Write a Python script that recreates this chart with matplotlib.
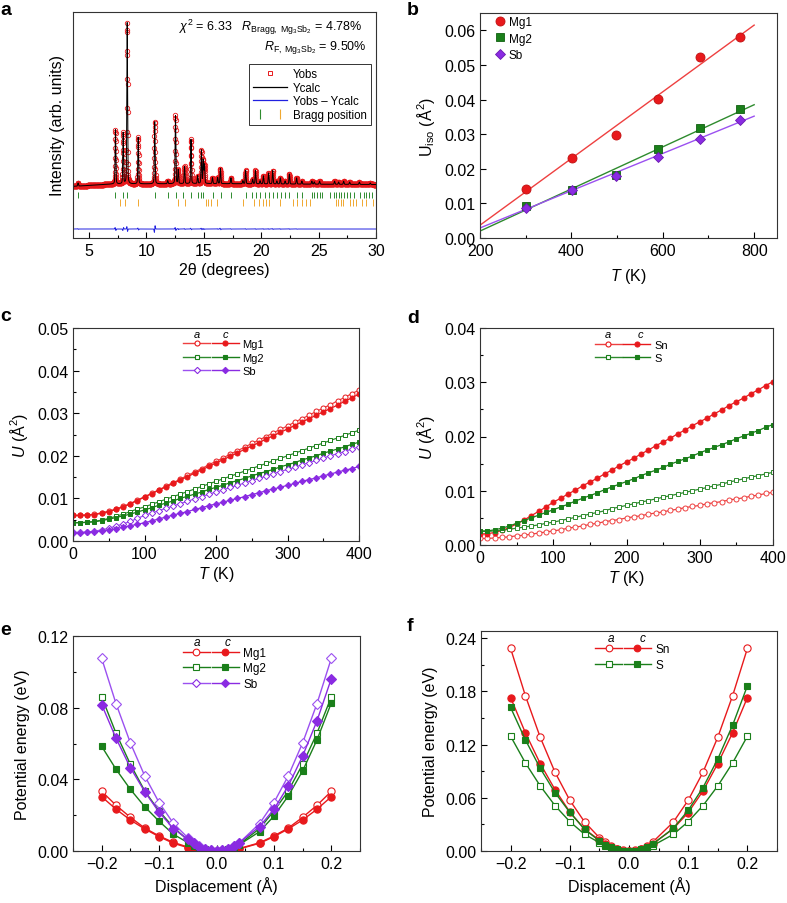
import numpy as np
import matplotlib
matplotlib.use("Agg")
import matplotlib.pyplot as plt
from matplotlib.lines import Line2D
from matplotlib.legend_handler import HandlerTuple
from matplotlib.ticker import MultipleLocator

plt.rcParams['font.family'] = ['Liberation Sans', 'DejaVu Sans']
plt.rcParams['mathtext.fontset'] = 'custom'
plt.rcParams['mathtext.rm'] = 'Liberation Sans'
plt.rcParams['mathtext.it'] = 'Liberation Sans:italic'
plt.rcParams['mathtext.bf'] = 'Liberation Sans:bold'

# ---------------- data: panel a (XRD refinement) ----------------
peak_pos = [4.04, 7.30, 7.97, 8.32, 9.28, 10.72, 11.85, 12.53, 12.77, 13.32, 13.88, 14.46,
            14.79, 14.95, 15.05, 15.75, 16.20, 16.44, 17.36, 18.40, 18.64, 19.25, 19.50,
            19.90, 20.19, 20.64, 21.00, 21.36, 21.66, 22.08, 22.45, 23.08, 23.54, 24.41,
            24.62, 25.08, 26.39, 26.74, 27.18, 27.70, 28.55, 29.50]
peak_int = [2, 35, 33, 104, 30, 40, 2, 44, 9, 11, 28.5, 5,
            21.5, 15, 12, 3.8, 4, 9.7, 3.8, 2, 8.6, 3, 8.6,
            2, 5.2, 7, 8.6, 2, 4, 2, 6.5, 4, 2, 2,
            1.5, 2, 2, 1.5, 2, 1.5, 1.5, 1]
peak_resid = [0.3, 1.5, -1.5, 2.5, 1.0, -3.5, 0, 1.5, 0.5, 0.5, 0.8, 0,
              0.8, 0.5, 0.3, 0, 0.3, 0.8, 0.3, 0, 0.4, 0, 0.4,
              0, 0.3, 0.3, 0.4, 0, 0.3, 0, 0.3, 0.2, 0, 0,
              0, 0, 0, 0, 0, 0, 0, 0]
bg_x = [3.6, 7.0, 15.0, 30.0]
bg_y = [-1.5, 0.0, 0.3, -0.3]
bragg_phase1 = [4.04, 7.30, 7.97, 8.32, 10.73, 11.84, 12.54, 13.21, 13.88, 14.46, 14.78, 14.95,
                15.77, 16.47, 17.34, 18.68, 19.23, 19.55, 19.90, 20.34, 20.72, 21.01, 21.36,
                21.71, 22.08, 22.46, 23.10, 23.54, 24.41, 24.62, 24.85, 25.08, 25.29, 26.01,
                26.30, 26.54, 26.74, 26.94, 27.18, 27.47, 27.70, 28.05, 28.63, 28.92, 29.16,
                29.36, 29.65]
bragg_phase2 = [7.68, 8.14, 9.28, 12.77, 13.35, 15.19, 15.39, 15.59, 16.18, 18.39, 19.38,
                19.84, 20.19, 20.42, 20.72, 21.65, 22.75, 23.10, 23.54, 23.92, 24.27, 26.54,
                26.68, 26.94, 27.12, 27.76, 27.99, 28.28, 28.78, 29.16, 29.74]

# ---------------- data: panel b ----------------
b_T = [300, 402, 497, 590, 681, 769]
b_mg1 = [0.0143, 0.0232, 0.0297, 0.0403, 0.0523, 0.0582]
b_mg2 = [0.0092, 0.0140, 0.0181, 0.0256, 0.0318, 0.0372]
b_sb = [0.0088, 0.0138, 0.0179, 0.0234, 0.0287, 0.0340]
fit_T = [200, 800]
fit_mg1 = [0.0037, 0.0615]
fit_mg2 = [0.0020, 0.0385]
fit_sb = [0.0029, 0.0352]

# ---------------- data: panels c, d ----------------
T_grid = list(range(0, 401, 10))
c_mg1_a = [0.0060, 0.0060, 0.0061, 0.0063, 0.0066, 0.0070, 0.0075, 0.0081, 0.0088, 0.0096, 0.0104,
           0.0112, 0.0120, 0.0129, 0.0137, 0.0145, 0.0154, 0.0162, 0.0170, 0.0179, 0.0187,
           0.0195, 0.0204, 0.0212, 0.0220, 0.0229, 0.0237, 0.0245, 0.0254, 0.0262, 0.0270,
           0.0279, 0.0287, 0.0295, 0.0304, 0.0312, 0.0320, 0.0329, 0.0337, 0.0346, 0.0354]
c_mg1_c = [0.0060, 0.0060, 0.0061, 0.0062, 0.0065, 0.0069, 0.0074, 0.0080, 0.0087, 0.0095, 0.0103,
           0.0111, 0.0119, 0.0127, 0.0135, 0.0143, 0.0151, 0.0159, 0.0167, 0.0175, 0.0183,
           0.0191, 0.0199, 0.0207, 0.0215, 0.0223, 0.0231, 0.0239, 0.0247, 0.0255, 0.0263,
           0.0271, 0.0279, 0.0287, 0.0295, 0.0303, 0.0311, 0.0319, 0.0328, 0.0336, 0.0345]
c_mg2_a = [0.0043, 0.0043, 0.0044, 0.0046, 0.0049, 0.0053, 0.0058, 0.0063, 0.0069, 0.0075, 0.0080,
           0.0086, 0.0092, 0.0098, 0.0104, 0.0110, 0.0116, 0.0122, 0.0128, 0.0134, 0.0140,
           0.0146, 0.0152, 0.0158, 0.0164, 0.0170, 0.0176, 0.0182, 0.0188, 0.0194, 0.0200,
           0.0206, 0.0212, 0.0218, 0.0224, 0.0230, 0.0236, 0.0242, 0.0248, 0.0254, 0.0260]
c_mg2_c = [0.0043, 0.0043, 0.0044, 0.0045, 0.0048, 0.0051, 0.0055, 0.0059, 0.0063, 0.0068, 0.0073,
           0.0078, 0.0084, 0.0089, 0.0094, 0.0100, 0.0105, 0.0110, 0.0115, 0.0121, 0.0126,
           0.0131, 0.0137, 0.0142, 0.0147, 0.0153, 0.0158, 0.0163, 0.0168, 0.0174, 0.0179,
           0.0184, 0.0190, 0.0195, 0.0200, 0.0206, 0.0211, 0.0216, 0.0221, 0.0227, 0.0232]
c_sb_a = [0.0020, 0.0020, 0.0021, 0.0023, 0.0026, 0.0030, 0.0035, 0.0040, 0.0046, 0.0053, 0.0060,
          0.0066, 0.0071, 0.0077, 0.0082, 0.0088, 0.0093, 0.0099, 0.0104, 0.0110, 0.0115,
          0.0120, 0.0126, 0.0131, 0.0136, 0.0142, 0.0147, 0.0152, 0.0158, 0.0163, 0.0168,
          0.0173, 0.0179, 0.0184, 0.0189, 0.0195, 0.0200, 0.0205, 0.0210, 0.0216, 0.0221]
c_sb_c = [0.0019, 0.0019, 0.0020, 0.0021, 0.0023, 0.0026, 0.0029, 0.0032, 0.0036, 0.0039, 0.0043,
          0.0047, 0.0052, 0.0056, 0.0061, 0.0065, 0.0069, 0.0074, 0.0078, 0.0083, 0.0087,
          0.0091, 0.0096, 0.0100, 0.0104, 0.0109, 0.0113, 0.0118, 0.0122, 0.0126, 0.0131,
          0.0135, 0.0140, 0.0144, 0.0148, 0.0153, 0.0157, 0.0162, 0.0166, 0.0170, 0.0175]
d_sn_a = [0.0012, 0.0012, 0.0013, 0.0014, 0.0015, 0.0017, 0.0018, 0.0020, 0.0022, 0.0024, 0.0026,
          0.0028, 0.0031, 0.0033, 0.0035, 0.0038, 0.0040, 0.0043, 0.0045, 0.0047, 0.0050,
          0.0052, 0.0054, 0.0057, 0.0059, 0.0061, 0.0064, 0.0066, 0.0069, 0.0071, 0.0073,
          0.0076, 0.0078, 0.0080, 0.0083, 0.0085, 0.0087, 0.0090, 0.0092, 0.0095, 0.0097]
d_sn_c = [0.0020, 0.0021, 0.0023, 0.0027, 0.0032, 0.0039, 0.0046, 0.0054, 0.0062, 0.0070, 0.0079,
          0.0086, 0.0094, 0.0101, 0.0109, 0.0116, 0.0123, 0.0131, 0.0138, 0.0146, 0.0153,
          0.0160, 0.0168, 0.0175, 0.0183, 0.0190, 0.0197, 0.0205, 0.0212, 0.0220, 0.0227,
          0.0234, 0.0242, 0.0249, 0.0257, 0.0264, 0.0271, 0.0279, 0.0286, 0.0294, 0.0301]
d_s_a = [0.0025, 0.0025, 0.0026, 0.0027, 0.0029, 0.0031, 0.0033, 0.0035, 0.0037, 0.0040, 0.0042,
         0.0045, 0.0048, 0.0051, 0.0054, 0.0057, 0.0060, 0.0063, 0.0067, 0.0070, 0.0073,
         0.0076, 0.0079, 0.0082, 0.0085, 0.0088, 0.0091, 0.0094, 0.0097, 0.0100, 0.0103,
         0.0106, 0.0109, 0.0112, 0.0116, 0.0119, 0.0122, 0.0125, 0.0128, 0.0131, 0.0134]
d_s_c = [0.0026, 0.0026, 0.0028, 0.0031, 0.0035, 0.0040, 0.0045, 0.0050, 0.0055, 0.0060, 0.0065,
         0.0070, 0.0075, 0.0081, 0.0086, 0.0091, 0.0096, 0.0102, 0.0107, 0.0112, 0.0117,
         0.0122, 0.0128, 0.0133, 0.0138, 0.0143, 0.0149, 0.0154, 0.0159, 0.0164, 0.0170,
         0.0175, 0.0180, 0.0185, 0.0190, 0.0196, 0.0201, 0.0206, 0.0211, 0.0217, 0.0222]

# ---------------- data: panels e, f ----------------
disp = [-0.2, -0.175, -0.15, -0.125, -0.1, -0.075, -0.05, -0.04, -0.03, -0.02, -0.01, 0.0,
        0.01, 0.02, 0.03, 0.04, 0.075, 0.1, 0.125, 0.15, 0.175, 0.2]
e_mg1_a = [0.0333, 0.0255, 0.0188, 0.0128, 0.0084, 0.0048, 0.0022, 0.0014, 0.0008, 0.0004, 0.0001, 0,
           0.0001, 0.0004, 0.0008, 0.0014, 0.0046, 0.0084, 0.0128, 0.0188, 0.0255, 0.0333]
e_mg1_c = [0.0303, 0.0233, 0.0173, 0.0123, 0.0080, 0.0043, 0.0019, 0.0012, 0.0007, 0.0003, 0.0001, 0,
           0.0001, 0.0003, 0.0007, 0.0012, 0.0043, 0.0080, 0.0123, 0.0173, 0.0233, 0.0303]
e_mg2_a = [0.0860, 0.0657, 0.0484, 0.0335, 0.0223, 0.0132, 0.0061, 0.0039, 0.0022, 0.0010, 0.0002, 0,
           0.0002, 0.0010, 0.0022, 0.0039, 0.0125, 0.0223, 0.0335, 0.0484, 0.0657, 0.0860]
e_mg2_c = [0.0584, 0.0456, 0.0344, 0.0247, 0.0166, 0.0093, 0.0047, 0.0030, 0.0017, 0.0008, 0.0002, 0,
           0.0002, 0.0009, 0.0020, 0.0036, 0.0108, 0.0195, 0.0307, 0.0447, 0.0620, 0.0826]
e_sb_a = [0.1075, 0.0822, 0.0603, 0.0419, 0.0270, 0.0154, 0.0074, 0.0047, 0.0027, 0.0012, 0.0003, 0,
          0.0003, 0.0012, 0.0027, 0.0047, 0.0153, 0.0270, 0.0419, 0.0603, 0.0822, 0.1075]
e_sb_c = [0.0817, 0.0629, 0.0465, 0.0331, 0.0216, 0.0125, 0.0065, 0.0042, 0.0024, 0.0011, 0.0003, 0,
          0.0003, 0.0012, 0.0027, 0.0047, 0.0136, 0.0233, 0.0363, 0.0530, 0.0726, 0.0962]
f_sn_a = [0.2284, 0.1750, 0.1283, 0.0888, 0.0572, 0.0327, 0.0150, 0.0100, 0.0057, 0.0026, 0.0006, 0,
          0.0006, 0.0026, 0.0057, 0.0100, 0.0327, 0.0572, 0.0888, 0.1283, 0.1750, 0.2284]
f_sn_c = [0.1730, 0.1332, 0.0986, 0.0692, 0.0440, 0.0245, 0.0124, 0.0080, 0.0046, 0.0021, 0.0005, 0,
          0.0005, 0.0021, 0.0046, 0.0080, 0.0252, 0.0433, 0.0677, 0.0986, 0.1332, 0.1730]
f_s_a = [0.1294, 0.0993, 0.0734, 0.0512, 0.0331, 0.0188, 0.0094, 0.0060, 0.0034, 0.0015, 0.0004, 0,
         0.0004, 0.0015, 0.0034, 0.0060, 0.0188, 0.0331, 0.0512, 0.0734, 0.0993, 0.1294]
f_s_c = [0.1618, 0.1253, 0.0933, 0.0658, 0.0436, 0.0245, 0.0113, 0.0072, 0.0041, 0.0018, 0.0005, 0,
         0.0005, 0.0019, 0.0044, 0.0078, 0.0256, 0.0459, 0.0715, 0.1038, 0.1418, 0.1862]

# ---------------- styling ----------------
RED = '#e8191c'
RED_L = '#ee4040'
GREEN = '#1a7f1a'
GREEN_L = '#2e8b2e'
PURPLE = '#8a2be2'
PURPLE_L = '#9b50f0'
ORANGE = '#f0a830'
FS = 11.5

W, H = 787, 904
fig = plt.figure(figsize=(W / 100, H / 100), dpi=100)


def add_ax(l, r, t, b):
    return fig.add_axes([l / W, (H - b) / H, (r - l) / W, (b - t) / H])


def style(ax):
    ax.tick_params(which='both', direction='in', top=False, right=False, labelsize=FS, width=0.8)
    ax.tick_params(which='major', length=4)
    ax.tick_params(which='minor', length=2.5)
    for s in ax.spines.values():
        s.set_linewidth(0.8)
        s.set_color('#333333')


def letter(x, y, s):
    fig.text(x / W, 1 - y / H, s, fontsize=14, fontweight='bold', va='top', ha='left')


# ---------------- panel a ----------------
axa = add_ax(73, 376, 13, 239)
style(axa)
x2 = np.arange(3.6, 30.0001, 0.01)
bg = np.interp(x2, bg_x, bg_y)
fwhm = 0.075
ycalc = bg.copy()
resid = np.zeros_like(x2)
for p, h, r in zip(peak_pos, peak_int, peak_resid):
    g = np.exp(-4 * np.log(2) * ((x2 - p) / fwhm) ** 2)
    lz = 1.0 / (1 + 4 * ((x2 - p) / fwhm) ** 2)
    ycalc += h * (0.7 * g + 0.3 * lz)
    resid += r * (-(x2 - p) / (fwhm / 2.355)) * np.exp(-0.5 * ((x2 - p) / (fwhm / 2.355)) ** 2)
yobs = ycalc + resid
axa.plot(x2, yobs, ls='none', marker='o', mfc='none', mec=RED, ms=3.2, mew=0.6)
axa.plot(x2, ycalc, color='black', lw=0.7)
axa.plot(x2, yobs - ycalc - 29, color='#2020e0', lw=0.7)
axa.vlines(bragg_phase1, -9.0, -5.2, color=GREEN_L, lw=0.7)
axa.vlines(bragg_phase2, -14.2, -9.7, color=ORANGE, lw=0.7)
axa.set_xlim(3.6, 30)
axa.set_ylim(-34.8, 111)
axa.set_yticks([])
axa.xaxis.set_major_locator(MultipleLocator(5))
axa.xaxis.set_minor_locator(MultipleLocator(2.5))
axa.set_xlabel('2θ (degrees)', fontsize=FS, labelpad=3)
axa.set_ylabel('Intensity (arb. units)', fontsize=FS, labelpad=6)
axa.text(0.955, 0.92, r'$\chi^2$ = 6.33   $R_{\mathrm{Bragg,\ Mg_3Sb_2}}$ = 4.78%',
         transform=axa.transAxes, ha='right', va='baseline', fontsize=9)
axa.text(0.968, 0.836, r'$R_{\mathrm{F,\ Mg_3Sb_2}}$ = 9.50%',
         transform=axa.transAxes, ha='right', va='baseline', fontsize=9)
ha_obs = Line2D([], [], ls='none', marker='s', mfc='none', mec=RED, ms=3.2, mew=0.7)
ha_calc = Line2D([], [], color='black', lw=0.9)
ha_diff = Line2D([], [], color='#2020e0', lw=0.9)
ha_b1 = Line2D([], [], ls='none', marker='|', color=GREEN_L, ms=7, mew=0.8)
ha_b2 = Line2D([], [], ls='none', marker='|', color=ORANGE, ms=7, mew=0.8)
lga = axa.legend([ha_obs, ha_calc, ha_diff, (ha_b1, ha_b2)],
                 ['Yobs', 'Ycalc', 'Yobs – Ycalc', 'Bragg position'],
                 handler_map={tuple: HandlerTuple(ndivide=None, pad=0.4)},
                 loc='upper right', bbox_to_anchor=(0.982, 0.768), fontsize=8.3,
                 frameon=True, fancybox=False, edgecolor='#333333', framealpha=1,
                 handlelength=3.0, handletextpad=0.5, labelspacing=0.15, borderpad=0.3,
                 borderaxespad=0)
lga.get_frame().set_linewidth(0.7)
letter(0, 2, 'a')

# ---------------- panel b ----------------
axb = add_ax(480, 777, 14, 239)
style(axb)
axb.plot(fit_T, fit_mg1, color=RED_L, lw=1.0)
axb.plot(fit_T, fit_mg2, color=GREEN_L, lw=1.0)
axb.plot(fit_T, fit_sb, color=PURPLE_L, lw=1.0)
axb.plot(b_T, b_mg1, ls='none', marker='o', ms=6.5, mfc=RED, mec='#c01010', mew=0.6, label='Mg1')
axb.plot(b_T, b_mg2, ls='none', marker='s', ms=5.8, mfc=GREEN, mec='#106010', mew=0.6, label='Mg2')
axb.plot(b_T, b_sb, ls='none', marker='D', ms=5.5, mfc=PURPLE, mec='#6a1ab0', mew=0.6, label='Sb')
axb.set_xlim(200, 850)
axb.set_ylim(0, 0.065)
axb.xaxis.set_major_locator(MultipleLocator(200))
axb.xaxis.set_minor_locator(MultipleLocator(100))
axb.yaxis.set_major_locator(MultipleLocator(0.01))
axb.yaxis.set_major_formatter(plt.FormatStrFormatter('%.2f'))
axb.set_xlabel(r'$T$ (K)', fontsize=FS, labelpad=6)
axb.set_ylabel(r'U$_{\mathrm{iso}}$ (Å$^2$)', fontsize=FS, labelpad=5)
axb.legend(loc='upper left', bbox_to_anchor=(0.045, 0.985), fontsize=8.5, frameon=False,
           handletextpad=0.1, labelspacing=0.35, borderaxespad=0, borderpad=0, handlelength=1.2)
letter(407, 2, 'b')


# ---------------- helper for c-f ----------------
def pair_legend(ax, entries, x_left, y_top, ax_a, ax_c, y_hdr, fs, hl):
    handles, labels = [], []
    for (lab, col_a, col_c, mk, ms) in entries:
        ho = Line2D([], [], color=col_a, lw=1.0, marker=mk, ms=ms, mfc='white', mec=col_c, mew=0.8)
        hf = Line2D([], [], color=col_c, lw=1.0, marker=mk, ms=ms, mfc=col_c, mec=col_c, mew=0.8)
        handles.append((ho, hf))
        labels.append(lab)
    ax.legend(handles, labels, handler_map={tuple: HandlerTuple(ndivide=None, pad=0.15)},
              loc='upper left', bbox_to_anchor=(x_left, y_top), frameon=False, fontsize=fs,
              handlelength=hl, handletextpad=0.35, labelspacing=0.3, borderpad=0, borderaxespad=0)
    ax.text(ax_a, y_hdr, 'a', transform=ax.transAxes, style='italic', fontsize=fs, ha='center', va='center')
    ax.text(ax_c, y_hdr, 'c', transform=ax.transAxes, style='italic', fontsize=fs, ha='center', va='center')


# ---------------- panel c ----------------
axc = add_ax(73, 359, 329, 542)
style(axc)
msc = 3.6
axc.plot(T_grid, c_mg1_a, color=RED_L, lw=0.9, marker='o', ms=msc, mfc='white', mec=RED, mew=0.7)
axc.plot(T_grid, c_mg1_c, color=RED, lw=0.9, marker='o', ms=msc, mfc=RED, mec=RED, mew=0.7)
axc.plot(T_grid, c_mg2_a, color=GREEN_L, lw=0.9, marker='s', ms=msc - 0.4, mfc='white', mec=GREEN, mew=0.7)
axc.plot(T_grid, c_mg2_c, color=GREEN, lw=0.9, marker='s', ms=msc - 0.4, mfc=GREEN, mec=GREEN, mew=0.7)
axc.plot(T_grid, c_sb_a, color=PURPLE_L, lw=0.9, marker='D', ms=msc - 0.4, mfc='white', mec=PURPLE, mew=0.7)
axc.plot(T_grid, c_sb_c, color=PURPLE, lw=0.9, marker='D', ms=msc - 0.4, mfc=PURPLE, mec=PURPLE, mew=0.7)
axc.set_xlim(0, 400)
axc.set_ylim(0, 0.05)
axc.xaxis.set_major_locator(MultipleLocator(100))
axc.xaxis.set_minor_locator(MultipleLocator(50))
axc.yaxis.set_major_locator(MultipleLocator(0.01))
axc.yaxis.set_minor_locator(MultipleLocator(0.005))
axc.yaxis.set_major_formatter(plt.FormatStrFormatter('%.2f'))
axc.set_xlabel(r'$T$ (K)', fontsize=FS, labelpad=2)
axc.set_ylabel(r'$U$ (Å$^2$)', fontsize=FS, labelpad=5)
pair_legend(axc, [('Mg1', RED_L, RED, 'o', 3.6), ('Mg2', GREEN_L, GREEN, 's', 3.2),
                  ('Sb', PURPLE_L, PURPLE, 'D', 3.2)],
            0.385, 0.947, 0.432, 0.532, 0.972, 8, 5.0)
letter(0, 308, 'c')

# ---------------- panel d ----------------
axd = add_ax(480, 773, 329, 546)
style(axd)
axd.plot(T_grid, d_sn_a, color=RED_L, lw=0.9, marker='o', ms=msc, mfc='white', mec=RED_L, mew=0.7)
axd.plot(T_grid, d_sn_c, color=RED, lw=0.9, marker='o', ms=msc, mfc=RED, mec=RED, mew=0.7)
axd.plot(T_grid, d_s_a, color=GREEN_L, lw=0.9, marker='s', ms=msc - 0.4, mfc='white', mec=GREEN_L, mew=0.7)
axd.plot(T_grid, d_s_c, color=GREEN, lw=0.9, marker='s', ms=msc - 0.4, mfc=GREEN, mec=GREEN, mew=0.7)
axd.set_xlim(0, 400)
axd.set_ylim(0, 0.04)
axd.xaxis.set_major_locator(MultipleLocator(100))
axd.xaxis.set_minor_locator(MultipleLocator(50))
axd.yaxis.set_major_locator(MultipleLocator(0.01))
axd.yaxis.set_minor_locator(MultipleLocator(0.005))
axd.yaxis.set_major_formatter(plt.FormatStrFormatter('%.2f'))
axd.set_xlabel(r'$T$ (K)', fontsize=FS, labelpad=2)
axd.set_ylabel(r'$U$ (Å$^2$)', fontsize=FS, labelpad=5)
pair_legend(axd, [('Sn', RED_L, RED, 'o', 3.6), ('S', GREEN_L, GREEN, 's', 3.2)],
            0.392, 0.947, 0.437, 0.549, 0.972, 8, 5.0)
letter(407, 310, 'd')

# ---------------- panel e ----------------
axe = add_ax(73, 360, 637, 852)
style(axe)
mse = 5.2
axe.plot(disp, e_mg1_a, color=RED, lw=1.0, marker='o', ms=mse, mfc='white', mec=RED, mew=0.8)
axe.plot(disp, e_mg1_c, color=RED, lw=1.0, marker='o', ms=mse, mfc=RED, mec=RED, mew=0.8)
axe.plot(disp, e_mg2_a, color=GREEN, lw=1.0, marker='s', ms=mse - 0.6, mfc='white', mec=GREEN, mew=0.8)
axe.plot(disp, e_mg2_c, color=GREEN, lw=1.0, marker='s', ms=mse - 0.6, mfc=GREEN, mec=GREEN, mew=0.8)
axe.plot(disp, e_sb_a, color=PURPLE_L, lw=1.0, marker='D', ms=mse - 0.6, mfc='white', mec=PURPLE_L, mew=0.8)
axe.plot(disp, e_sb_c, color=PURPLE, lw=1.0, marker='D', ms=mse - 0.6, mfc=PURPLE, mec=PURPLE, mew=0.8)
axe.set_xlim(-0.25, 0.25)
axe.set_ylim(0, 0.12)
axe.xaxis.set_major_locator(MultipleLocator(0.1))
axe.xaxis.set_minor_locator(MultipleLocator(0.05))
axe.yaxis.set_major_locator(MultipleLocator(0.04))
axe.yaxis.set_minor_locator(MultipleLocator(0.02))
axe.yaxis.set_major_formatter(plt.FormatStrFormatter('%.2f'))
axe.xaxis.set_major_formatter(plt.FuncFormatter(lambda v, p: ('%.1f' % v).replace('-', '\u2212')))
axe.set_xlabel('Displacement (Å)', fontsize=FS, labelpad=4)
axe.set_ylabel('Potential energy (eV)', fontsize=FS, labelpad=5)
pair_legend(axe, [('Mg1', RED, RED, 'o', 4.8), ('Mg2', GREEN, GREEN, 's', 4.2),
                  ('Sb', PURPLE_L, PURPLE, 'D', 4.2)],
            0.383, 0.95, 0.432, 0.54, 0.974, 8.5, 4.75)
letter(0, 622, 'e')

# ---------------- panel f ----------------
axf = add_ax(481, 777, 632, 852)
style(axf)
axf.plot(disp, f_sn_a, color=RED, lw=1.0, marker='o', ms=mse, mfc='white', mec=RED, mew=0.8)
axf.plot(disp, f_sn_c, color=RED, lw=1.0, marker='o', ms=mse, mfc=RED, mec=RED, mew=0.8)
axf.plot(disp, f_s_a, color=GREEN, lw=1.0, marker='s', ms=mse - 0.6, mfc='white', mec=GREEN, mew=0.8)
axf.plot(disp, f_s_c, color=GREEN, lw=1.0, marker='s', ms=mse - 0.6, mfc=GREEN, mec=GREEN, mew=0.8)
axf.set_xlim(-0.25, 0.25)
axf.set_ylim(0, 0.248)
axf.xaxis.set_major_locator(MultipleLocator(0.1))
axf.xaxis.set_minor_locator(MultipleLocator(0.05))
axf.yaxis.set_major_locator(MultipleLocator(0.06))
axf.yaxis.set_minor_locator(MultipleLocator(0.03))
axf.yaxis.set_major_formatter(plt.FormatStrFormatter('%.2f'))
axf.xaxis.set_major_formatter(plt.FuncFormatter(lambda v, p: ('%.1f' % v).replace('-', '\u2212')))
axf.set_xlabel('Displacement (Å)', fontsize=FS, labelpad=4)
axf.set_ylabel('Potential energy (eV)', fontsize=FS, labelpad=5)
pair_legend(axf, [('Sn', RED, RED, 'o', 4.8), ('S', GREEN, GREEN, 's', 4.2)],
            0.385, 0.945, 0.439, 0.547, 0.968, 8.5, 4.75)
letter(407, 618, 'f')

fig.savefig('out.png', dpi=100)
